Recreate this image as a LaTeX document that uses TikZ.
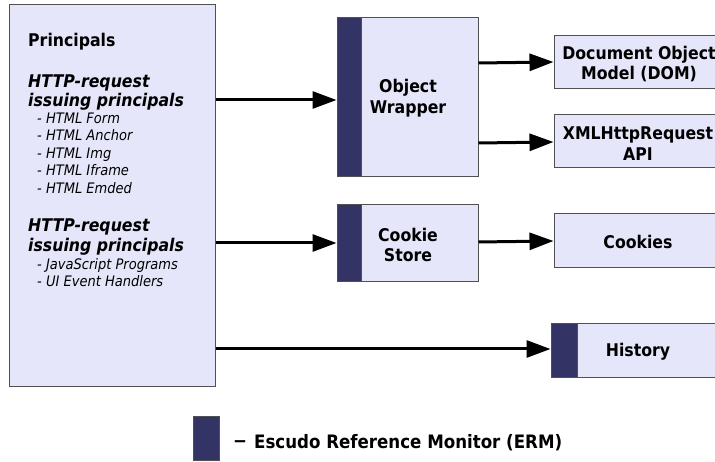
\documentclass[tikz,border=0pt]{standalone}
\usepackage{fontspec}
\setmainfont{DejaVu Sans Condensed}
\usetikzlibrary{arrows.meta}

\definecolor{boxfill}{RGB}{230,230,250}
\definecolor{ermbar}{RGB}{51,51,102}
\definecolor{boxline}{RGB}{80,80,80}

\begin{document}
\begin{tikzpicture}[x=1pt,y=-1pt,
  box/.style={draw=boxline,line width=1pt,fill=boxfill,rectangle,inner sep=0pt},
  erm/.style={draw=boxline,line width=1pt,fill=ermbar,rectangle,inner sep=0pt,anchor=north west},
  lbl/.style={font=\fontsize{17.5}{20.5}\selectfont\bfseries,align=center,inner sep=0pt},
  head/.style={font=\fontsize{17.5}{20}\selectfont\bfseries\itshape,anchor=base west,inner sep=0pt},
  item/.style={font=\fontsize{14.5}{17}\selectfont\itshape,anchor=base west,inner sep=0pt},
  arr/.style={line width=3pt,-{Triangle[length=24pt,width=17pt]}},
]
\useasboundingbox (0,0) rectangle (715,462);
\clip (0,0) rectangle (715,462);

% principals column
\node[box,minimum width=206pt,minimum height=381pt] (princ) at (112,195.5) {};
\node[head,font=\fontsize{17.5}{20}\selectfont\bfseries] (ptitle) at (28,46.5) {Principals};
\node[head] (h1a) at (28,87.5) {HTTP-request};
\node[head] (h1b) at (28,107) {issuing principals};
\node[item] (i1) at (37,123.3) {- HTML Form};
\node[item] (i2) at (37,140.8) {- HTML Anchor};
\node[item] (i3) at (37,158.3) {- HTML Img};
\node[item] (i4) at (37,175.8) {- HTML Iframe};
\node[item] (i5) at (37,193.3) {- HTML Emded};
\node[head] (h2a) at (28,231.5) {HTTP-request};
\node[head] (h2b) at (28,251.5) {issuing principals};
\node[item] (j1) at (37,270) {- JavaScript Programs};
\node[item] (j2) at (37,287) {- UI Event Handlers};

% monitored components
\node[box,minimum width=141pt,minimum height=159pt] (ow) at (407.5,97.5) {};
\node[erm,minimum width=24pt,minimum height=159pt] (owbar) at (ow.north west) {};
\node[lbl] (owtxt) at (408,98) {Object\\Wrapper};

\node[box,minimum width=141pt,minimum height=77pt] (cs) at (407.5,243.5) {};
\node[erm,minimum width=24pt,minimum height=77pt] (csbar) at (cs.north west) {};
\node[lbl] (cstxt) at (408,245) {Cookie\\Store};

% targets
\node[box,minimum width=170pt,minimum height=53pt] (dom) at (639,62.5) {};
\node[lbl] (domtxt) at (639,64) {Document Object\\Model (DOM)};
\node[box,minimum width=170pt,minimum height=53pt] (xhr) at (639,141.5) {};
\node[lbl] (xhrtxt) at (638,143.5) {XMLHttpRequest\\API};
\node[box,minimum width=170pt,minimum height=54pt] (ck) at (639,241) {};
\node[lbl] (cktxt) at (638,241.7) {Cookies};
\node[box,minimum width=176pt,minimum height=53pt] (hist) at (639,350.5) {};
\node[erm,minimum width=26pt,minimum height=53pt] (histbar) at (hist.north west) {};
\node[lbl] (histtxt) at (638,352) {History};

% connectors
\draw[arr] (princ.east |- 0,100) -- (owbar.west |- 0,100);
\draw[arr] (princ.east |- 0,243) -- (csbar.west |- 0,243);
\draw[arr] (princ.east |- 0,349) -- (histbar.west |- 0,349);
\draw[arr] (ow.east |- 0,63) -- (dom.west |- 0,62);
\draw[arr] (ow.east |- 0,143) -- (xhr.west |- 0,142);
\draw[arr] (cs.east |- 0,242) -- (ck.west |- 0,241);

% legend
\node[erm,anchor=center,minimum width=26pt,minimum height=44pt] (legbar) at (206,438) {};
\node[lbl,font=\fontsize{18.5}{20}\selectfont\bfseries] (legdash) at (240,444) {−};
\node[lbl,font=\fontsize{18.5}{20}\selectfont\bfseries,anchor=west] (legtxt) at (254,443) {Escudo Reference Monitor (ERM)};
\end{tikzpicture}
\end{document}
